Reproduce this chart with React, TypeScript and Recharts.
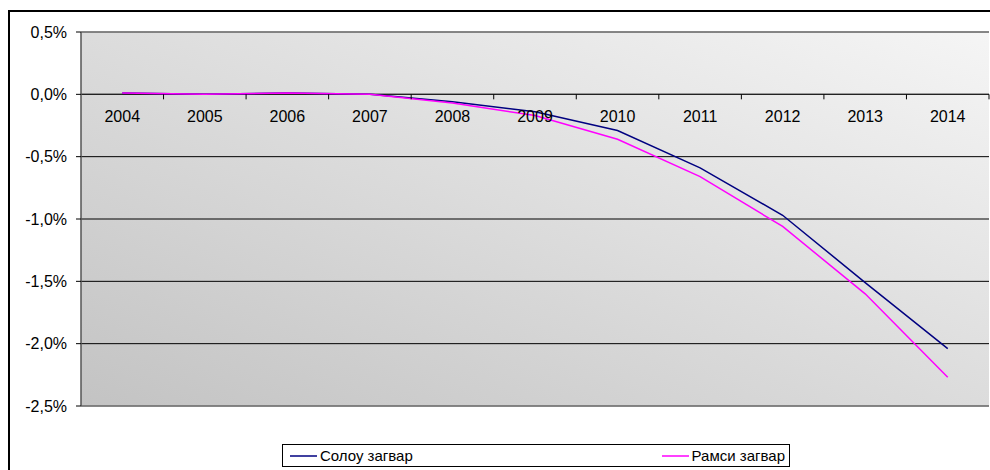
import React from 'react';
import { LineChart, Line, XAxis, YAxis, CartesianGrid, ReferenceLine } from 'recharts';

const categories = ['2004', '2005', '2006', '2007', '2008', '2009', '2010', '2011', '2012', '2013', '2014'];
const solowValues = [0.01, 0.0, 0.01, 0.0, -0.06, -0.14, -0.29, -0.59, -0.97, -1.51, -2.04];
const ramseyValues = [0.01, 0.0, 0.01, 0.0, -0.07, -0.17, -0.36, -0.66, -1.06, -1.6, -2.27];
const seriesNames = ['Солоу загвар', 'Рамси загвар'];
const seriesColors = ['#000080', '#ff00ff'];
const yTicks = [0.5, 0, -0.5, -1, -1.5, -2, -2.5];

const data = categories.map((c, i) => ({ year: c, solow: solowValues[i], ramsey: ramseyValues[i] }));

const W = 990;
const H = 470;
const X_AXIS_H = 30;
const MARGIN = { top: 32, right: 1, bottom: 64 - X_AXIS_H, left: 8 };
const Y_AXIS_W = 73;
const PLOT_W = W - MARGIN.left - MARGIN.right - Y_AXIS_W;
const PLOT_H = H - MARGIN.top - MARGIN.bottom - X_AXIS_H;
const Y_MAX = yTicks[0];
const Y_MIN = yTicks[yTicks.length - 1];
const ZERO_Y = MARGIN.top + (PLOT_H * (Y_MAX - 0)) / (Y_MAX - Y_MIN);
const BW = PLOT_W / categories.length;
const FONT = 'Arial, "Liberation Sans", sans-serif';

const fmt = (v: number) => v.toFixed(1).replace('.', ',') + '%';

const XTick = (props: any) => {
  const { x, payload } = props;
  return (
    <g>
      <text x={x} y={ZERO_Y + 28} textAnchor="middle" fontSize={16} fill="#000" fontFamily={FONT}>
        {payload.value}
      </text>
      <line x1={x + BW / 2} x2={x + BW / 2} y1={ZERO_Y} y2={ZERO_Y + 5} stroke="#000" strokeWidth={1} />
    </g>
  );
};

export default function App() {
  return (
    <div style={{ position: 'absolute', left: 0, top: 0, width: W, height: H, background: '#fff', fontFamily: FONT, overflow: 'hidden' }}>
      <div style={{ position: 'absolute', left: 8, top: 10, width: W, height: H, borderLeft: '2px solid #000', borderTop: '2px solid #000', boxSizing: 'border-box' }} />
      <LineChart width={W} height={H} data={data} margin={MARGIN}>
        <defs>
          <linearGradient id="plotBg" x1="0" y1="1" x2="1" y2="0">
            <stop offset="0%" stopColor="#c3c3c3" />
            <stop offset="100%" stopColor="#f5f5f5" />
          </linearGradient>
        </defs>
        <CartesianGrid vertical={false} stroke="#000" strokeWidth={1} fill="url(#plotBg)" fillOpacity={1} />
        <XAxis dataKey="year" scale="band" height={X_AXIS_H} axisLine={false} tickLine={false} tick={XTick} interval={0} />
        <YAxis
          width={Y_AXIS_W}
          domain={[Y_MIN, Y_MAX]}
          ticks={yTicks}
          interval={0}
          allowDataOverflow
          tickFormatter={fmt}
          tick={{ fontSize: 16, fill: '#000', fontFamily: FONT }}
          tickLine={{ stroke: '#000' }}
          tickSize={5}
          tickMargin={9}
          axisLine={{ stroke: '#555', strokeWidth: 1.5 }}
        />
        <ReferenceLine y={Y_MAX} stroke="#888" strokeWidth={1.5} />
        <ReferenceLine y={Y_MIN} stroke="#888" strokeWidth={1.5} />
        <ReferenceLine y={0} stroke="#222" strokeWidth={1.2} />
        <Line type="linear" dataKey="solow" name={seriesNames[0]} stroke={seriesColors[0]} strokeWidth={1.5} dot={false} isAnimationActive={false} />
        <Line type="linear" dataKey="ramsey" name={seriesNames[1]} stroke={seriesColors[1]} strokeWidth={1.5} dot={false} isAnimationActive={false} />
      </LineChart>
      <div
        style={{
          position: 'absolute',
          left: 282,
          top: 444,
          width: 508,
          height: 23,
          border: '1px solid #000',
          boxSizing: 'border-box',
          display: 'flex',
          alignItems: 'center',
          justifyContent: 'space-between',
          padding: '0 4px 0 7px',
          fontSize: 15,
          color: '#000',
        }}
      >
        {seriesNames.map((n, i) => (
          <div key={n} style={{ display: 'flex', alignItems: 'center' }}>
            <span style={{ display: 'inline-block', width: 27, height: 2, background: seriesColors[i], marginRight: 3, opacity: 0.75 }} />
            <span>{n}</span>
          </div>
        ))}
      </div>
    </div>
  );
}
